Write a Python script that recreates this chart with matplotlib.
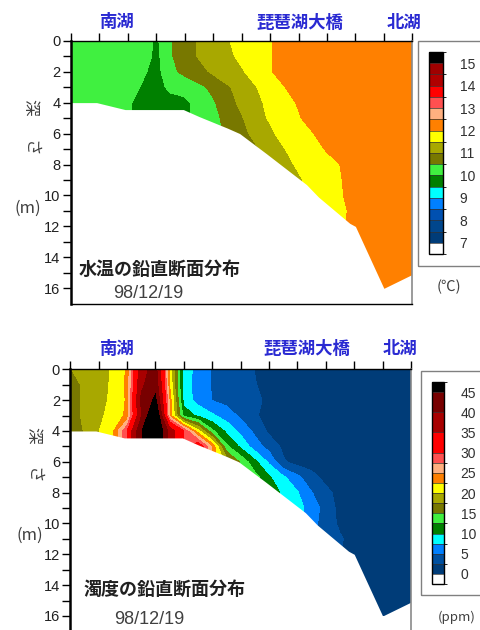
import numpy as np
import pandas as pd
import matplotlib
matplotlib.use("Agg")
import matplotlib.pyplot as plt
from matplotlib.colors import ListedColormap, BoundaryNorm
from matplotlib.cm import ScalarMappable
from matplotlib.patches import Rectangle

N = np.nan

# ---------------- data ----------------
stations_x = [0, 0.5, 1, 1.5, 2, 2.5, 3, 3.5, 4, 4.5, 5, 5.5, 6, 6.5, 7, 7.5, 8, 8.5, 9, 9.5, 10, 10.5, 11, 11.5, 12]
depths_m = [0, 1, 2, 3, 4, 5, 6, 7, 8, 9, 10, 11, 12, 13, 14, 15, 16]

bottom_x = [0, 0.9, 1.9, 3.95, 4.5, 5.5, 5.93, 6.87, 8.28, 8.7, 9.8, 10.0, 11.0, 12.0]
bottom_z = [4.0, 4.0, 4.45, 4.45, 4.9, 5.65, 6.0, 7.3, 9.3, 10.1, 11.8, 12.0, 16.0, 15.1]

# water temperature (deg C), rows = depth, columns = stations
temp_grid = [
    [10.25, 10.25, 10.25, 10.25, 10.25, 10.3, 9.9, 10.45, 10.8, 11.05, 11.25, 11.45, 11.75, 11.75, 11.95, 12.25, 12.25, 12.25, 12.25, 12.25, 12.25, 12.25, 12.25, 12.25, 12.25],
    [10.25, 10.25, 10.25, 10.25, 10.25, 10.3, 9.85, 10.45, 10.75, 11.05, 11.25, 11.4, 11.6, 11.75, 11.95, 12.25, 12.25, 12.25, 12.25, 12.25, 12.25, 12.25, 12.25, 12.25, 12.25],
    [10.25, 10.25, 10.25, 10.25, 10.25, 10.1, 9.8, 10.4, 10.6, 10.8, 11.1, 11.25, 11.45, 11.7, 11.95, 12.25, 12.25, 12.25, 12.25, 12.25, 12.25, 12.25, 12.25, 12.25, 12.25],
    [10.25, 10.25, 10.25, 10.25, 10.25, 9.95, 9.75, 10.15, 10.25, 10.4, 10.6, 10.95, 11.15, 11.48, 11.75, 11.98, 12.25, 12.25, 12.25, 12.25, 12.25, 12.25, 12.25, 12.25, 12.25],
    [10.25, 10.25, 10.25, 10.25, 10.1, 9.75, 9.75, 9.75, 9.85, 10.25, 10.45, 10.75, 11.15, 11.4, 11.6, 11.8, 12.05, 12.25, 12.25, 12.25, 12.25, 12.25, 12.25, 12.25, 12.25],
    [N, N, N, N, N, N, N, N, N, 10.25, 10.4, 10.6, 10.95, 11.35, 11.55, 11.75, 11.95, 12.2, 12.25, 12.25, 12.25, 12.25, 12.25, 12.25, 12.25],
    [N, N, N, N, N, N, N, N, N, N, N, 10.55, 10.8, 11.2, 11.4, 11.7, 11.8, 11.98, 12.25, 12.25, 12.25, 12.25, 12.25, 12.25, 12.25],
    [N, N, N, N, N, N, N, N, N, N, N, N, N, 10.9, 11.3, 11.48, 11.75, 11.8, 12.05, 12.25, 12.25, 12.25, 12.25, 12.25, 12.25],
    [N, N, N, N, N, N, N, N, N, N, N, N, N, N, 11.2, 11.3, 11.6, 11.75, 11.8, 12.02, 12.25, 12.25, 12.25, 12.25, 12.25],
    [N, N, N, N, N, N, N, N, N, N, N, N, N, N, N, N, 11.4, 11.75, 11.8, 11.98, 12.25, 12.25, 12.25, 12.25, 12.25],
    [N, N, N, N, N, N, N, N, N, N, N, N, N, N, N, N, N, 11.7, 11.75, 11.95, 12.25, 12.25, 12.25, 12.25, 12.25],
    [N, N, N, N, N, N, N, N, N, N, N, N, N, N, N, N, N, N, 11.75, 11.85, 12.2, 12.25, 12.25, 12.25, 12.25],
    [N, N, N, N, N, N, N, N, N, N, N, N, N, N, N, N, N, N, N, 11.9, 12.25, 12.25, 12.25, 12.25, 12.25],
    [N, N, N, N, N, N, N, N, N, N, N, N, N, N, N, N, N, N, N, N, 12.25, 12.25, 12.25, 12.25, 12.25],
    [N, N, N, N, N, N, N, N, N, N, N, N, N, N, N, N, N, N, N, N, N, 12.25, 12.25, 12.25, 12.25],
    [N, N, N, N, N, N, N, N, N, N, N, N, N, N, N, N, N, N, N, N, N, 12.25, 12.25, 12.25, 12.25],
    [N, N, N, N, N, N, N, N, N, N, N, N, N, N, N, N, N, N, N, N, N, N, 12.25, 12.25, 12.25],
]

# turbidity (ppm)
turb_grid = [
    [17.4, 18.5, 19.2, 20.2, 22.8, 38, 42, 22, 8.5, 6.8, 4.8, 4.3, 3.5, 2.45, 1.5, 1.25, 1.25, 1.25, 1.25, 1.25, 1.25, 1.25, 1.25, 1.25, 1.25],
    [16.5, 17.9, 19.0, 20.4, 23.0, 39, 43.5, 22.3, 8.5, 6.6, 4.8, 4.2, 3.6, 2.6, 1.8, 1.25, 1.25, 1.25, 1.25, 1.25, 1.25, 1.25, 1.25, 1.25, 1.25],
    [16.5, 17.9, 19.0, 20.6, 22.8, 41, 46, 24, 9.0, 6.5, 4.9, 4.2, 3.6, 2.9, 2.1, 1.25, 1.25, 1.25, 1.25, 1.25, 1.25, 1.25, 1.25, 1.25, 1.25],
    [16.5, 17.9, 19.4, 21.0, 23.0, 39.5, 52, 24, 11.5, 9.5, 7.9, 6.3, 4.5, 2.8, 1.6, 1.25, 1.25, 1.25, 1.25, 1.25, 1.25, 1.25, 1.25, 1.25, 1.25],
    [16.5, 17.6, 19.9, 22.0, 30, 44.5, 52, 38, 30, 21, 13.0, 9.4, 6.8, 4.4, 2.0, 1.25, 1.25, 1.25, 1.25, 1.25, 1.25, 1.25, 1.25, 1.25, 1.25],
    [N, N, N, N, N, N, N, N, N, 33, 24.5, 13, 9.4, 6.2, 4.0, 2.0, 1.25, 1.25, 1.25, 1.25, 1.25, 1.25, 1.25, 1.25, 1.25],
    [N, N, N, N, N, N, N, N, N, N, N, 19, 14.5, 10.6, 7.0, 2.8, 1.5, 1.25, 1.25, 1.25, 1.25, 1.25, 1.25, 1.25, 1.25],
    [N, N, N, N, N, N, N, N, N, N, N, N, N, 13.5, 10.3, 7.9, 5.6, 3.4, 1.6, 1.25, 1.25, 1.25, 1.25, 1.25, 1.25],
    [N, N, N, N, N, N, N, N, N, N, N, N, N, N, 12.0, 9.4, 7.7, 5.1, 3.3, 1.5, 1.25, 1.25, 1.25, 1.25, 1.25],
    [N, N, N, N, N, N, N, N, N, N, N, N, N, N, N, N, 8.3, 6.5, 3.8, 1.8, 1.25, 1.25, 1.25, 1.25, 1.25],
    [N, N, N, N, N, N, N, N, N, N, N, N, N, N, N, N, N, 5.8, 3.9, 2.0, 1.25, 1.25, 1.25, 1.25, 1.25],
    [N, N, N, N, N, N, N, N, N, N, N, N, N, N, N, N, N, N, 3.5, 2.8, 1.5, 1.25, 1.25, 1.25, 1.25],
    [N, N, N, N, N, N, N, N, N, N, N, N, N, N, N, N, N, N, N, 2.6, 1.3, 1.25, 1.25, 1.25, 1.25],
    [N, N, N, N, N, N, N, N, N, N, N, N, N, N, N, N, N, N, N, N, 1.25, 1.25, 1.25, 1.25, 1.25],
    [N, N, N, N, N, N, N, N, N, N, N, N, N, N, N, N, N, N, N, N, N, 1.25, 1.25, 1.25, 1.25],
    [N, N, N, N, N, N, N, N, N, N, N, N, N, N, N, N, N, N, N, N, N, 1.25, 1.25, 1.25, 1.25],
    [N, N, N, N, N, N, N, N, N, N, N, N, N, N, N, N, N, N, N, N, N, N, 1.25, 1.25, 1.25],
]

temp_levels = [6.5, 7.0, 7.5, 8.0, 8.5, 9.0, 9.5, 10.0, 10.5, 11.0, 11.5, 12.0, 12.5, 13.0, 13.5, 14.0, 14.5, 15.0, 15.5]
temp_colors = ["#ffffff", "#003c78", "#00468c", "#0050b0", "#0080ff", "#00ffff", "#008000", "#40f040",
               "#787800", "#a8a800", "#ffff00", "#ff8000", "#ffb080", "#ff5050", "#ff0000", "#b00000",
               "#a00000", "#000000"]
temp_ticks = [7, 8, 9, 10, 11, 12, 13, 14, 15]

turb_levels = [-2.5, 0, 2.5, 5, 7.5, 10, 12.5, 15, 17.5, 20, 22.5, 25, 27.5, 30, 35, 40, 45, 47.5]
turb_colors = ["#ffffff", "#003c78", "#0050a0", "#0080ff", "#00ffff", "#008000", "#40f040", "#787800",
               "#a8a800", "#ffff00", "#ff8000", "#ffb080", "#ff5050", "#ff0000", "#a80000", "#780000",
               "#000000"]
turb_ticks = [0, 5, 10, 15, 20, 25, 30, 35, 40, 45]

place_names = ["南湖", "琵琶湖大橋", "北湖"]
titles = ["水温の鉛直断面分布", "濁度の鉛直断面分布"]
date_label = "98/12/19"
units = ["(℃)", "(ppm)"]
ylab_parts = ["深", "さ", "(m)"]

# ---------------- drawing ----------------
W, H = 480, 630
fig = plt.figure(figsize=(W / 100, H / 100), dpi=100)
fig.patch.set_facecolor("white")

CJK = ["Noto Sans CJK JP", "DejaVu Sans"]
NUM = ["Liberation Sans", "DejaVu Sans"]


def rect(l, t, r, b):
    return [l / W, 1 - b / H, (r - l) / W, (b - t) / H]


def ftext(x, y, s, **kw):
    fig.text(x / W, 1 - y / H, s, **kw)


def panel(grid, levels, colors, ticks, ax_px, cax_px, box_px, title, unit,
          unit_pos, place_pos, ylab_pos, title_pos, date_pos, unit_size):
    ax = fig.add_axes(rect(*ax_px))
    Z = pd.DataFrame(grid).ffill().to_numpy(dtype=float)
    X, Y = np.meshgrid(stations_x, depths_m)
    plot_levels = list(levels)
    plot_levels[0] = -1000
    plot_levels[-1] = 1000
    ax.contourf(X, Y, Z, levels=plot_levels, colors=colors, zorder=1)
    ax.fill_between(bottom_x, bottom_z, 17.5, color="white", lw=0, zorder=2)
    ax.set_xlim(0, 12)
    ax.set_ylim(17, 0)
    ax.set_facecolor("white")

    ax.set_xticks(range(13))
    ax.xaxis.tick_top()
    ax.tick_params(axis="x", which="both", top=True, bottom=False, labeltop=False,
                   labelbottom=False, direction="out", length=5.5, width=1, color="black")
    ax.set_yticks(range(0, 17, 2))
    ax.set_yticks(range(1, 17, 2), minor=True)
    ax.set_yticklabels([str(v) for v in range(0, 17, 2)])
    ax.tick_params(axis="y", which="both", direction="out", length=6, width=1,
                   color="black", pad=1.5, labelsize=10.5, labelcolor="#202020")
    for lbl in ax.get_yticklabels():
        lbl.set_family(NUM)

    for side in ["top", "bottom"]:
        ax.spines[side].set_color("black")
        ax.spines[side].set_linewidth(1.0)
    ax.spines["left"].set_color("black")
    ax.spines["left"].set_linewidth(1.8)
    ax.spines["right"].set_color("#8a8a8a")
    ax.spines["right"].set_linewidth(1.2)

    # colour bar
    cax = fig.add_axes(rect(*cax_px))
    sm = ScalarMappable(norm=BoundaryNorm(levels, len(colors)), cmap=ListedColormap(colors))
    cb = fig.colorbar(sm, cax=cax, ticks=ticks, spacing="proportional", drawedges=True)
    cb.outline.set_linewidth(1.0)
    cb.outline.set_edgecolor("black")
    cb.dividers.set_linewidth(0.5)
    cb.dividers.set_color("#333333")
    cax.tick_params(length=0, pad=12, labelsize=10, labelcolor="#303030")
    cax.set_yticklabels([str(t) for t in ticks])
    for lbl in cax.get_yticklabels():
        lbl.set_family(NUM)

    l, t, r, b = box_px
    fig.add_artist(Rectangle((l / W, 1 - b / H), (r - l) / W, (b - t) / H,
                             transform=fig.transFigure, fill=False, ec="#808080", lw=1.0))

    ftext(unit_pos[0], unit_pos[1], unit, ha="center", va="center", fontsize=unit_size,
          family=CJK, color="#404040")

    for name, (px, py) in zip(place_names, place_pos):
        ftext(px, py, name, ha="center", va="center", fontsize=12.5, fontweight="bold",
              family=CJK, color="#2a2ad2")

    for part, (px, py), rot in zip(ylab_parts, ylab_pos, [-90, -90, 0]):
        ftext(px, py, part, ha="center", va="center", fontsize=12, family=CJK,
              color="#404040", rotation=rot)

    ftext(title_pos[0], title_pos[1], title, ha="left", va="center", fontsize=13,
          fontweight="bold", family=CJK, color="#202020")
    ftext(date_pos[0], date_pos[1], date_label, ha="left", va="center", fontsize=13,
          family=NUM, color="#404040")
    return ax


panel(temp_grid, temp_levels, temp_colors, temp_ticks,
      ax_px=(71, 40.7, 412.3, 303.8), cax_px=(429, 52, 443, 254), box_px=(418, 40.7, 486, 266),
      title=titles[0], unit=units[0], unit_pos=(449, 287),
      place_pos=[(116, 22), (300, 23), (404, 23)],
      ylab_pos=[(30, 107), (30, 148), (28, 208)],
      title_pos=(79, 269), date_pos=(113, 293), unit_size=10.5)

panel(turb_grid, turb_levels, turb_colors, turb_ticks,
      ax_px=(70.3, 369.3, 411, 631.4), cax_px=(432, 382, 444, 584), box_px=(421, 371, 486, 595),
      title=titles[1], unit=units[1], unit_pos=(457, 617),
      place_pos=[(116, 349), (307, 349), (400, 349)],
      ylab_pos=[(33, 435), (33, 475), (30, 535)],
      title_pos=(83, 589), date_pos=(114, 619), unit_size=9.5)

fig.savefig("out.png", dpi=100, facecolor="white")
